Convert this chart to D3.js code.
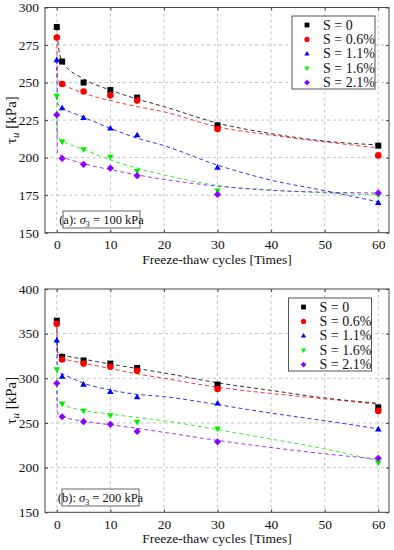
<!DOCTYPE html>
<html>
<head>
<meta charset="utf-8">
<script src="https://cdn.jsdelivr.net/npm/d3@7"></script>
<style>
  body { margin: 0; background: #fff; }
</style>
</head>
<body>
<div id="chart"></div>
<script>
const FONT = "Liberation Serif";

// measured cycles
const cycles = [0, 1, 5, 10, 15, 30, 60];
// x positions used for the fitted dashed curves
const fitCycles = [0, 0.15, 1, 5, 10, 15, 20, 30, 40, 50, 60];

const seriesNames = ["S = 0", "S = 0.6%", "S = 1.1%", "S = 1.6%", "S = 2.1%"];
const seriesColors = ["#000000", "#ff0000", "#0000ff", "#00ee00", "#8c00ff"];
const seriesSymbols = ["square", "circle", "triUp", "triDown", "diamond"];

// (a) sigma3 = 100 kPa
const pointsA = [
  [287, 264, 250, 245, 240, 221.5, 208],
  [280, 249, 244, 241.5, 238, 219, 201.5],
  [265, 233, 226.5, 219.5, 215, 193.5, 170],
  [241, 210.5, 205.5, 200.5, 191, 178, 175],
  [228.5, 199.5, 195.5, 193, 188, 175.5, 176.5]
];
const fitsA = [
  [287, 279, 264, 252.5, 245, 239, 234, 223, 216, 211, 208.5],
  [280, 252, 249.5, 243, 238, 234, 230.5, 220.5, 215, 210.5, 206.5],
  [265, 236, 233.5, 227, 219.5, 213, 208, 195, 185, 178, 170.5],
  [241, 214, 211.5, 205.5, 198.5, 193, 188.5, 181.5, 178.5, 176.5, 175.3],
  [229, 203, 201, 196, 192, 188.5, 185.5, 181, 178.2, 177, 176.4]
];

// (b) sigma3 = 200 kPa
const pointsB = [
  [364.5, 324, 320, 316.5, 311.5, 293, 267.5],
  [361, 321, 316.5, 313, 308.5, 288, 263.5],
  [342.5, 302, 293, 285, 279, 272, 243],
  [310, 271.5, 263.5, 258.5, 251, 243.5, 205.5],
  [294.5, 257, 251.5, 248.5, 240.5, 229, 210.5]
];
const fitsB = [
  [364.5, 330, 327, 321.5, 316, 311, 306, 295, 286.5, 278, 272],
  [361, 327, 323, 317, 311, 305, 300, 290, 283, 277, 271],
  [342.5, 307, 305, 294.5, 287, 282, 279.5, 270.5, 261, 252.5, 243.5],
  [310, 275, 271, 264, 260, 256, 252.5, 242.5, 232, 221, 207.5],
  [294.5, 261, 257.5, 252, 248, 244, 239.5, 230.5, 222.5, 215.5, 209.5]
];

const xTicks = [0, 10, 20, 30, 40, 50, 60];
const yTicksA = [150, 175, 200, 225, 250, 275, 300];
const yTicksB = [150, 200, 250, 300, 350, 400];

const svg = d3.select("#chart").append("svg")
  .attr("width", 394)
  .attr("height", 550);

svg.append("rect").attr("width", 394).attr("height", 550).attr("fill", "#fff");

// marker shapes, r = half size in px
function markerPath(kind, r) {
  const p = d3.path();
  if (kind === "square") {
    p.rect(-r, -r, 2 * r, 2 * r);
  } else if (kind === "circle") {
    p.arc(0, 0, r, 0, 2 * Math.PI);
  } else if (kind === "triUp") {
    p.moveTo(0, -r * 1.15); p.lineTo(r * 1.1, r * 0.75); p.lineTo(-r * 1.1, r * 0.75); p.closePath();
  } else if (kind === "triDown") {
    p.moveTo(0, r * 1.15); p.lineTo(r * 1.1, -r * 0.75); p.lineTo(-r * 1.1, -r * 0.75); p.closePath();
  } else {
    p.moveTo(0, -r * 1.2); p.lineTo(r * 1.2, 0); p.lineTo(0, r * 1.2); p.lineTo(-r * 1.2, 0); p.closePath();
  }
  return p.toString();
}

function drawPanel(cfg) {
  const left = 45, right = 389;
  const top = cfg.top, bottom = cfg.bottom;

  const x = d3.scaleLinear().domain([-2.2, 62]).range([left, right]);
  const y = d3.scaleLinear().domain(cfg.yDomain).range([bottom, top]);

  const g = svg.append("g");

  // grid
  g.append("g").selectAll("line")
    .data(xTicks)
    .join("line")
    .attr("x1", d => x(d)).attr("x2", d => x(d))
    .attr("y1", top).attr("y2", bottom)
    .attr("stroke", "#c4c4c4").attr("stroke-dasharray", "3,3");
  g.append("g").selectAll("line")
    .data(cfg.yTicks.slice(1, -1))
    .join("line")
    .attr("x1", left).attr("x2", right)
    .attr("y1", d => y(d)).attr("y2", d => y(d))
    .attr("stroke", "#c4c4c4").attr("stroke-dasharray", "3,3");

  // axes (inward ticks on all four sides)
  const axB = g.append("g").attr("transform", `translate(0,${bottom})`)
    .call(d3.axisBottom(x).tickValues(xTicks).tickSizeInner(-3).tickSizeOuter(0).tickPadding(7));
  const axT = g.append("g").attr("transform", `translate(0,${top})`)
    .call(d3.axisTop(x).tickValues(xTicks).tickSizeInner(-3).tickSizeOuter(0).tickFormat(""));
  const axL = g.append("g").attr("transform", `translate(${left},0)`)
    .call(d3.axisLeft(y).tickValues(cfg.yTicks).tickSizeInner(-3).tickSizeOuter(0).tickPadding(6));
  const axR = g.append("g").attr("transform", `translate(${right},0)`)
    .call(d3.axisRight(y).tickValues(cfg.yTicks).tickSizeInner(-3).tickSizeOuter(0).tickFormat(""));
  [axB, axT, axL, axR].forEach(a => {
    a.select(".domain").remove();
    a.selectAll("line").attr("stroke", "#444");
    a.selectAll("text").style("font-family", FONT).style("font-size", "13.5px").attr("fill", "#111");
  });
  g.append("rect")
    .attr("x", left).attr("y", top)
    .attr("width", right - left).attr("height", bottom - top)
    .attr("fill", "none").attr("stroke", "#444").attr("stroke-width", 1);

  // fitted curves
  const line = d3.line()
    .x((d, i) => x(fitCycles[i]))
    .y(d => y(d))
    .curve(d3.curveMonotoneX);
  cfg.fits.forEach((f, i) => {
    g.append("path")
      .attr("d", line(f))
      .attr("fill", "none")
      .attr("stroke", seriesColors[i])
      .attr("stroke-width", 1)
      .attr("stroke-opacity", 0.8)
      .attr("stroke-dasharray", "4,3");
  });

  // measured points
  cfg.points.forEach((p, i) => {
    g.append("g").selectAll("path")
      .data(p)
      .join("path")
      .attr("d", markerPath(seriesSymbols[i], i === 1 ? 3.3 : 3))
      .attr("transform", (d, j) => `translate(${x(cycles[j])},${y(d)})`)
      .attr("fill", seriesColors[i]);
  });

  // legend
  const lg = g.append("g").attr("transform", `translate(${cfg.legend[0]},${cfg.legend[1]})`);
  lg.append("rect")
    .attr("width", 83).attr("height", 73)
    .attr("fill", "#fff").attr("stroke", "#555");
  seriesNames.forEach((name, i) => {
    const yy = 9 + i * 14.4;
    lg.append("path")
      .attr("d", markerPath(seriesSymbols[i], i === 1 ? 2.6 : 2.4))
      .attr("transform", `translate(15,${yy})`)
      .attr("fill", seriesColors[i]);
    lg.append("text")
      .attr("x", 31).attr("y", yy + 4.5)
      .style("font-family", FONT)
      .style("font-size", "14px")
      .attr("fill", "#111")
      .text(name);
  });

  // annotation box
  const ag = g.append("g").attr("transform", `translate(${cfg.note[0]},${cfg.note[1]})`);
  ag.append("rect")
    .attr("width", 77).attr("height", 17)
    .attr("fill", "#fff").attr("stroke", "#666");
  const t = ag.append("text").attr("x", 38.5).attr("y", 12.5)
    .style("font-family", FONT).style("font-size", "12.5px")
    .attr("text-anchor", "middle").attr("fill", "#111");
  t.append("tspan").text(cfg.label + ": ");
  t.append("tspan").attr("font-style", "italic").text("σ");
  t.append("tspan").style("font-size", "8px").attr("dy", 3).text("3");
  t.append("tspan").attr("dy", -3).text(" = " + cfg.sigma + " kPa");

  // axis labels
  g.append("text")
    .attr("x", 217).attr("y", bottom + 31)
    .style("font-family", FONT).style("font-size", "13.5px")
    .attr("text-anchor", "middle").attr("fill", "#111")
    .text("Freeze-thaw cycles [Times]");
  const yl = g.append("text")
    .attr("transform", `translate(16,${(top + bottom) / 2}) rotate(-90)`)
    .style("font-family", FONT).style("font-size", "15px")
    .attr("text-anchor", "middle").attr("fill", "#111");
  yl.append("tspan").text("τ");
  yl.append("tspan").attr("font-style", "italic").style("font-size", "11px").attr("dy", 3).text("u");
  yl.append("tspan").attr("dy", -3).text(" [kPa]");
}

drawPanel({
  top: 7.5, bottom: 232.7, yDomain: [150, 300], yTicks: yTicksA,
  points: pointsA, fits: fitsA, legend: [292, 16], note: [63, 211], label: "(a)", sigma: 100
});
drawPanel({
  top: 289, bottom: 512.3, yDomain: [150, 400], yTicks: yTicksB,
  points: pointsB, fits: fitsB, legend: [288.5, 298], note: [62, 489], label: "(b)", sigma: 200
});
</script>
</body>
</html>
